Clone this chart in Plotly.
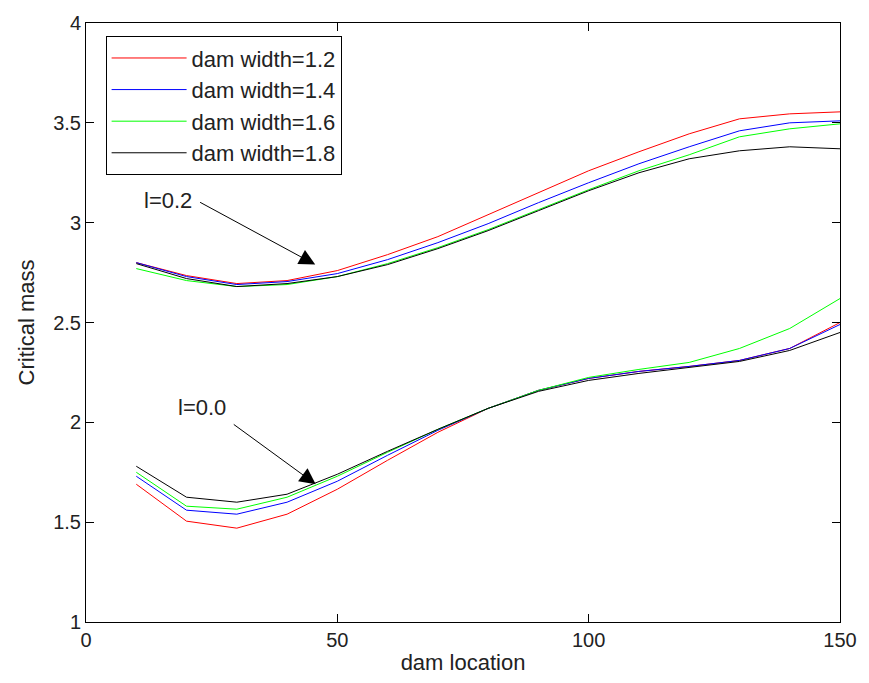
import plotly.graph_objects as go

# dam location (same for every curve)
dam_location = [10, 20, 30, 40, 50, 60, 70, 80, 90, 100, 110, 120, 130, 140, 150]

widths = ["1.2", "1.4", "1.6", "1.8"]
colors = ["#ff0000", "#0000ff", "#00ff00", "#000000"]

# l = 0.2 (upper family)
upper_12 = [2.80, 2.735, 2.695, 2.71, 2.76, 2.84, 2.93, 3.04, 3.15, 3.26, 3.355, 3.445, 3.52, 3.545, 3.555]
upper_14 = [2.80, 2.73, 2.69, 2.705, 2.745, 2.815, 2.90, 2.995, 3.10, 3.20, 3.295, 3.38, 3.46, 3.50, 3.51]
upper_16 = [2.77, 2.71, 2.68, 2.69, 2.73, 2.795, 2.875, 2.965, 3.065, 3.165, 3.26, 3.34, 3.43, 3.47, 3.495]
upper_18 = [2.795, 2.72, 2.68, 2.695, 2.73, 2.79, 2.87, 2.96, 3.06, 3.16, 3.25, 3.32, 3.36, 3.38, 3.37]

# l = 0.0 (lower family)
lower_12 = [1.69, 1.505, 1.47, 1.54, 1.665, 1.81, 1.95, 2.07, 2.16, 2.22, 2.255, 2.28, 2.31, 2.37, 2.50]
lower_14 = [1.73, 1.56, 1.54, 1.60, 1.705, 1.835, 1.96, 2.07, 2.16, 2.22, 2.255, 2.28, 2.31, 2.37, 2.49]
lower_16 = [1.75, 1.58, 1.565, 1.625, 1.73, 1.85, 1.965, 2.07, 2.16, 2.225, 2.265, 2.30, 2.37, 2.47, 2.62]
lower_18 = [1.78, 1.625, 1.60, 1.64, 1.74, 1.855, 1.965, 2.07, 2.155, 2.21, 2.245, 2.275, 2.305, 2.36, 2.45]

upper = [upper_12, upper_14, upper_16, upper_18]
lower = [lower_12, lower_14, lower_16, lower_18]

FONT = "Liberation Sans, Arial, sans-serif"
FS = 22      # legend, titles, labels
TICK_FS = 20
TXT = "#222222"

fig = go.Figure()
for w, c, up, lo in zip(widths, colors, upper, lower):
    fig.add_trace(go.Scatter(x=dam_location + [None] + dam_location,
                             y=up + [None] + lo,
                             mode="lines", line=dict(color=c, width=1),
                             name="dam width=" + w))

axis_style = dict(showline=True, linecolor="black", linewidth=1, mirror="ticks",
                  ticks="inside", ticklen=8, tickcolor="black", showgrid=False,
                  zeroline=False, tickfont=dict(size=TICK_FS, color=TXT))

fig.update_xaxes(range=[0, 150], tickvals=[0, 50, 100, 150],
                 title=dict(text="dam location", font=dict(size=FS, color=TXT), standoff=4),
                 **axis_style)
fig.update_yaxes(range=[1, 4], tickvals=[1, 1.5, 2, 2.5, 3, 3.5, 4],
                 ticktext=["1", "1.5", "2", "2.5", "3", "3.5", "4"],
                 title=dict(text="Critical mass", font=dict(size=FS, color=TXT), standoff=12),
                 **axis_style)

arrow = dict(xref="x", yref="y", axref="x", ayref="y", text="", showarrow=True,
             arrowhead=2, arrowsize=3.2, arrowwidth=1, arrowcolor="black")
fig.add_annotation(x=45.6, y=2.79, ax=22.4, ay=3.106, **arrow)
fig.add_annotation(x=45.7, y=1.69, ax=29.1, ay=1.995, **arrow)

label = dict(xref="x", yref="y", showarrow=False, xanchor="right", yanchor="middle",
             font=dict(size=FS, color=TXT))
fig.add_annotation(x=21.5, y=3.11, text="l=0.2", **label)
fig.add_annotation(x=28.3, y=2.073, text="l=0.0", **label)

fig.update_layout(
    width=869, height=683,
    margin=dict(l=86, r=20, t=21, b=61),
    paper_bgcolor="white", plot_bgcolor="white",
    font=dict(family=FONT, size=FS, color=TXT),
    legend=dict(x=0.026, y=0.978, xanchor="left", yanchor="top",
                bgcolor="white", bordercolor="black", borderwidth=1,
                itemwidth=75, font=dict(size=FS)),
)

# drop the browser's default 8px body margin so the figure fills the window
fig.write_html("out.html", config={"displayModeBar": False},
               post_script="document.body.style.margin='0';")
